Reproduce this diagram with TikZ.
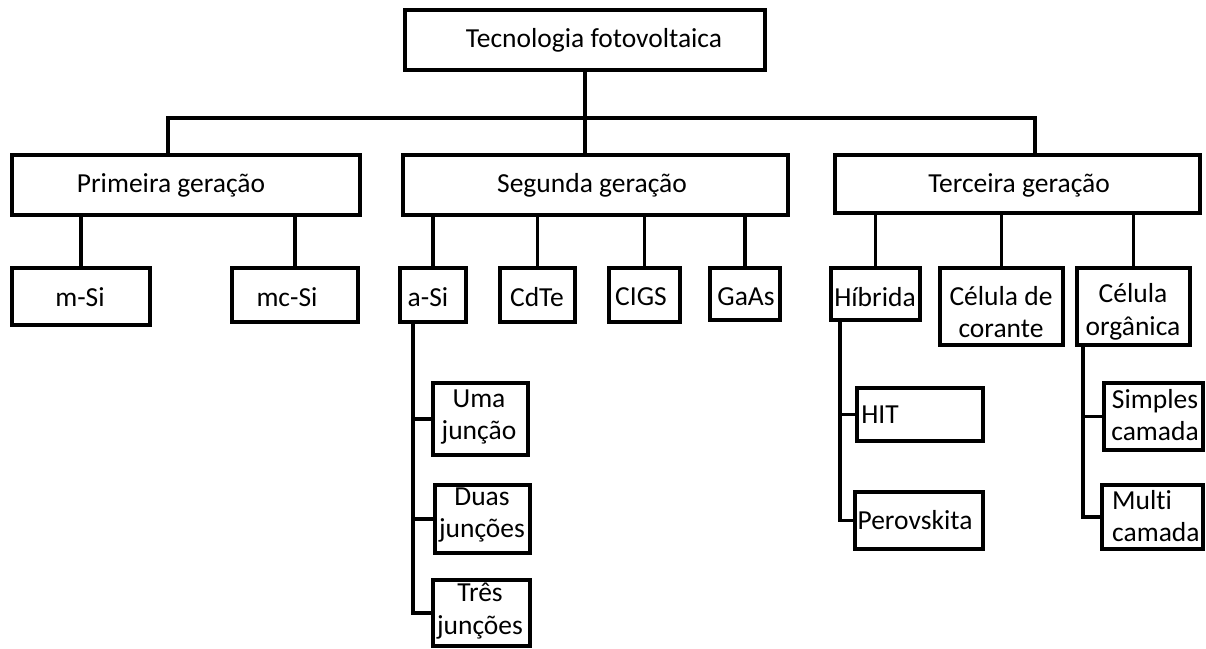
\documentclass[tikz,border=0pt]{standalone}
\usepackage{fontspec}
\setmainfont[Ligatures={NoCommon}]{Carlito}
\usetikzlibrary{fit}
\begin{document}
\begin{tikzpicture}[x=1pt,y=-1pt,
  box/.style={draw, line width=3.5pt, inner sep=0pt},
  lbl/.style={font=\fontsize{27.5}{32.5}\selectfont, inner sep=0pt, align=center},
  lbll/.style={lbl, align=left},
  conn/.style={line width=3.5pt}]
\useasboundingbox (0,0) rectangle (1206,648);
% boxes
\node[box, fit={(405,10)(765,70)}] (top) {};
\node[box, fit={(12,155)(360,215)}] (prim) {};
\node[box, fit={(403,155)(788,215)}] (seg) {};
\node[box, fit={(835,155)(1200,213)}] (terc) {};
\node[box, fit={(12,268)(150,325)}] (msi) {};
\node[box, fit={(232,268)(358,322)}] (mcsi) {};
\node[box, fit={(400,268)(466,322)}] (asi) {};
\node[box, fit={(500,268)(575,322)}] (cdte) {};
\node[box, fit={(609,268)(680,322)}] (cigs) {};
\node[box, fit={(710,268)(780,320)}] (gaas) {};
\node[box, fit={(831,268)(920,320)}] (hib) {};
\node[box, fit={(940,268)(1063,345)}] (cor) {};
\node[box, fit={(1077,268)(1190,345)}] (org) {};
\node[box, fit={(433,383)(528,455)}] (uma) {};
\node[box, fit={(435,485)(530,553)}] (duas) {};
\node[box, fit={(433,580)(530,646)}] (tres) {};
\node[box, fit={(857,388)(983,441)}] (hit) {};
\node[box, fit={(855,492)(983,549)}] (per) {};
\node[box, fit={(1104,383)(1203,450)}] (simp) {};
\node[box, fit={(1102,485)(1203,549)}] (multi) {};
% texts
\node[lbl] (ttop) at (594,40) {Tecnologia fotovoltaica};
\node[lbl] (tprim) at (171,185) {Primeira geração};
\node[lbl] (tseg) at (592,185) {Segunda geração};
\node[lbl] (tterc) at (1019,185) {Terceira geração};
\node[lbl] (tmsi) at (80,297) {m-Si};
\node[lbl] (tmcsi) at (287,297) {mc-Si};
\node[lbl] (tasi) at (428,297) {a-Si};
\node[lbl] (tcdte) at (537,297) {CdTe};
\node[lbl] (tcigs) at (641,297) {CIGS};
\node[lbl] (tgaas) at (746,297) {GaAs};
\node[lbl] (thib) at (875,297) {Híbrida};
\node[lbl] (tcor) at (1001,312) {Célula de\\corante};
\node[lbl] (torg) at (1133,312) {Célula\\orgânica};
\node[lbl] (tuma) at (479,417) {Uma\\junção};
\node[lbl] (tduas) at (482,515) {Duas\\junções};
\node[lbl] (ttres) at (480,611) {Três\\junções};
\node[lbl] (thit) at (880,415) {HIT};
\node[lbl] (tper) at (915,520) {Perovskita};
\node[lbl] (tsimp) at (1155,415) {Simples\\camada};
\node[lbll, anchor=west] (tmulti) at (1112,516) {Multi\\camada};
% connectors
\coordinate (busL) at (168,118);
\coordinate (busR) at (1035,118);
\coordinate (ax) at (413,0);
\coordinate (hx) at (840,0);
\coordinate (ox) at (1083,0);
\draw[conn] (top.south) -- (top.south |- seg.north);
\draw[conn] (prim.north -| busL) -- (busL) -- (busR) -- (terc.north -| busR);
\draw[conn] (msi.north) -- (msi.north |- prim.south);
\draw[conn] (mcsi.north) -- (mcsi.north |- prim.south);
\draw[conn] (asi.north) -- (asi.north |- seg.south);
\draw[conn] (cdte.north) -- (cdte.north |- seg.south);
\draw[conn] (cigs.north) -- (cigs.north |- seg.south);
\draw[conn] (gaas.north) -- (gaas.north |- seg.south);
\draw[conn] (hib.north) -- (hib.north |- terc.south);
\draw[conn] (cor.north) -- (cor.north |- terc.south);
\draw[conn] (org.north) -- (org.north |- terc.south);
\draw[conn] (asi.south -| ax) |- (tres.west);
\draw[conn] (uma.west -| ax) -- (uma.west);
\draw[conn] (duas.west -| ax) -- (duas.west);
\draw[conn] (hib.south -| hx) |- (per.west);
\draw[conn] (hit.west -| hx) -- (hit.west);
\draw[conn] (org.south -| ox) |- (multi.west);
\draw[conn] (simp.west -| ox) -- (simp.west);
\end{tikzpicture}
\end{document}
